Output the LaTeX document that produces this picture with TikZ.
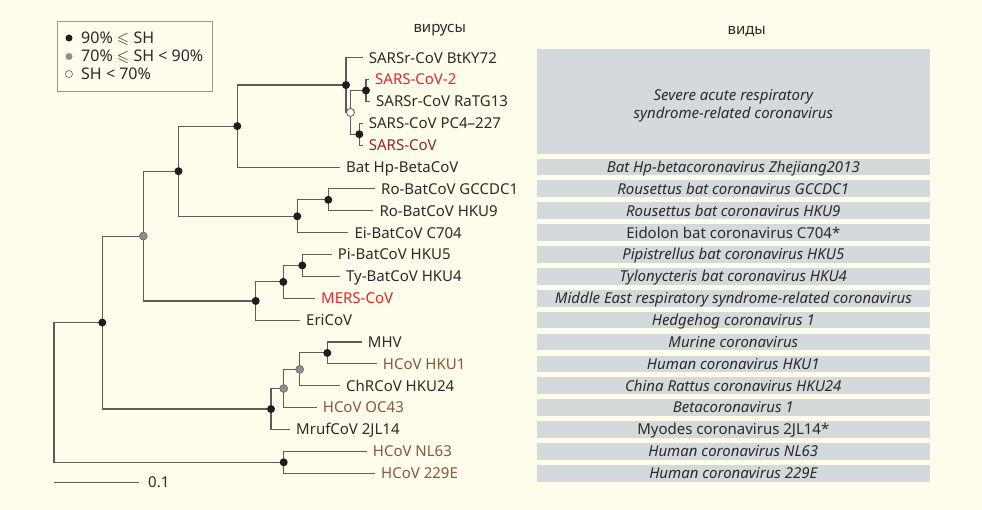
\documentclass[tikz,border=0pt]{standalone}
\usepackage{fontspec}
\setmainfont{Noto Sans}
\usepackage{amssymb}
\definecolor{bgc}{HTML}{FEFCEA}
\definecolor{linec}{HTML}{5E5D55}
\definecolor{txt}{HTML}{2B2B2B}
\definecolor{redc}{HTML}{E2262F}
\definecolor{darkred}{HTML}{8E2236}
\definecolor{brownc}{HTML}{8A5641}
\definecolor{boxc}{HTML}{D4DADB}
\definecolor{legc}{HTML}{9A9A8A}
\definecolor{dotb}{HTML}{1E1E1E}
\definecolor{dotg}{HTML}{8E8E8E}
\tikzset{
  br/.style={draw=linec, line width=1.1pt},
  leaf/.style={anchor=west, inner xsep=6pt, inner ysep=0pt, text height=12pt, text depth=1.3pt, font=\fontsize{15}{17}\selectfont, text=txt},
  bdot/.style={circle, fill=dotb, inner sep=0pt, minimum size=8pt},
  gdot/.style={circle, fill=dotg, draw=linec, line width=0.5pt, inner sep=0pt, minimum size=8pt},
  odot/.style={circle, fill=white, draw=linec, line width=0.8pt, inner sep=0pt, minimum size=8pt},
  sbox/.style={fill=boxc, draw=none, inner sep=0pt, minimum width=393.3pt, minimum height=16.8pt, text height=12pt, text depth=1.3pt, font=\fontsize{15}{17}\selectfont, text=txt},
  hdr/.style={font=\fontsize{15}{17}\selectfont, text=txt, inner sep=0pt},
  legt/.style={anchor=west, inner sep=0pt, text height=12.5pt, text depth=1.5pt, font=\fontsize{16}{18}\selectfont, text=txt},
}
\begin{document}
\begin{tikzpicture}[x=1pt,y=-1pt]
\fill[bgc] (0,0) rectangle (982,510);
\useasboundingbox (0,0) rectangle (982,510);
% legend
\node[draw=legc, line width=1pt, minimum width=155pt, minimum height=70pt, anchor=north west, inner sep=0pt] (leg) at (57,21) {};
\node[bdot, minimum size=7pt] (lg1) at (69,38) {};
\node[gdot, minimum size=7pt, draw=none] (lg2) at (69,56.5) {};
\node[odot, minimum size=7pt, line width=0.6pt] (lg3) at (69,74) {};
\node[legt] (lt1) at (81,38) {90\% $\leqslant$ SH};
\node[legt] (lt2) at (81,56.5) {70\% $\leqslant$ SH < 90\%};
\node[legt] (lt3) at (81,74) {SH < 70\%};
% headers
\node[hdr] (h1) at (439.7,30) {вирусы};
\node[hdr] (h2) at (746.7,31.7) {виды};
% internal node coordinates
\coordinate (P) at (366,90.5);
\coordinate (Q) at (359.3,134.25);
\coordinate (O) at (350.5,112.4);
\coordinate (N) at (346,85.05);
\coordinate (B) at (237.3,126.1);
\coordinate (D) at (328.3,199.85);
\coordinate (DE) at (297.3,216.3);
\coordinate (C) at (178.5,171.2);
\coordinate (H) at (302.3,265.45);
\coordinate (G) at (283.3,281.9);
\coordinate (F) at (255.7,301);
\coordinate (E) at (143.3,236.1);
\coordinate (L) at (327.3,352.95);
\coordinate (K) at (299.7,369.4);
\coordinate (J) at (283.7,388.5);
\coordinate (I) at (271,409);
\coordinate (A) at (102.3,322.55);
\coordinate (M) at (283.7,462.3);
\coordinate (R) at (54,392.4);
% leaves
\node[leaf] (l0) at (362.7,57.7) {SARSr-CoV BtKY72};
\node[leaf, text=redc] (l1) at (369,79.6) {SARS-CoV-2};
\node[leaf] (l2) at (370,101.4) {SARSr-CoV RaTG13};
\node[leaf] (l3) at (362.7,123.3) {SARS-CoV PC4–227};
\node[leaf, text=darkred] (l4) at (362.7,145.2) {SARS-CoV};
\node[leaf] (l5) at (340,167.1) {Bat Hp-BetaCoV};
\node[leaf] (l6) at (375,188.9) {Ro-BatCoV GCCDC1};
\node[leaf] (l7) at (373.3,210.8) {Ro-BatCoV HKU9};
\node[leaf] (l8) at (348.3,232.7) {Ei-BatCoV C704};
\node[leaf] (l9) at (331.7,254.5) {Pi-BatCoV HKU5};
\node[leaf] (l10) at (340,276.4) {Ty-BatCoV HKU4};
\node[leaf, text=redc] (l11) at (315,298.3) {MERS-CoV};
\node[leaf] (l12) at (300,320.1) {EriCoV};
\node[leaf] (l13) at (361.7,342) {MHV};
\node[leaf, text=brownc] (l14) at (376.7,363.9) {HCoV HKU1};
\node[leaf] (l15) at (340,385.8) {ChRCoV HKU24};
\node[leaf, text=brownc] (l16) at (316.7,407.6) {HCoV OC43};
\node[leaf] (l17) at (290,429.5) {MrufCoV 2JL14};
\node[leaf, text=brownc] (l18) at (366.7,451.4) {HCoV NL63};
\node[leaf, text=brownc] (l19) at (375,473.2) {HCoV 229E};
% branches
\draw[br] (P) |- (l1.west) (P) |- (l2.west);
\draw[br] (Q) |- (l3.west) (Q) |- (l4.west);
\draw[br] (O) |- (P) (O) |- (Q);
\draw[br] (N) |- (l0.west) (N) |- (O);
\draw[br] (B) |- (N) (B) |- (l5.west);
\draw[br] (D) |- (l6.west) (D) |- (l7.west);
\draw[br] (DE) |- (D) (DE) |- (l8.west);
\draw[br] (C) |- (B) (C) |- (DE);
\draw[br] (H) |- (l9.west) (H) |- (l10.west);
\draw[br] (G) |- (H) (G) |- (l11.west);
\draw[br] (F) |- (G) (F) |- (l12.west);
\draw[br] (E) |- (C) (E) |- (F);
\draw[br] (L) |- (l13.west) (L) |- (l14.west);
\draw[br] (K) |- (L) (K) |- (l15.west);
\draw[br] (J) |- (K) (J) |- (l16.west);
\draw[br] (I) |- (J) (I) |- (l17.west);
\draw[br] (A) |- (E) (A) |- (I);
\draw[br] (M) |- (l18.west) (M) |- (l19.west);
\draw[br] (R) |- (A) (R) |- (M);
% support dots
\foreach \n in {N,P,Q,B,D,DE,C,H,G,F,L,I,A,M} \node[bdot] (d\n) at (\n) {};
\foreach \n in {E,K,J} \node[gdot] (d\n) at (\n) {};
\node[odot] (dO) at (O) {};
% scale bar
\coordinate (sb1) at (54,482.3);
\node[leaf, inner xsep=0pt] (sbl) at (148,482.3) {0.1};
\draw[br] (sb1) -- (139.3,482.3);
% species boxes
\node[sbox, minimum height=104.3pt] (s0) at (733.3,101.45) {};
\node[font=\fontsize{15}{18.5}\selectfont\itshape, text=txt, align=center, inner sep=0pt] (s0t) at (733.3,106) {Severe acute respiratory\\syndrome-related coronavirus};
\node[sbox] (s5) at (733.3,167.1) {\itshape Bat Hp-betacoronavirus Zhejiang2013};
\node[sbox] (s6) at (733.3,188.9) {\itshape Rousettus bat coronavirus GCCDC1};
\node[sbox] (s7) at (733.3,210.8) {\itshape Rousettus bat coronavirus HKU9};
\node[sbox] (s8) at (733.3,232.7) {Eidolon bat coronavirus C704*};
\node[sbox] (s9) at (733.3,254.5) {\itshape Pipistrellus bat coronavirus HKU5};
\node[sbox] (s10) at (733.3,276.4) {\itshape Tylonycteris bat coronavirus HKU4};
\node[sbox] (s11) at (733.3,298.3) {\itshape Middle East respiratory syndrome-related coronavirus};
\node[sbox] (s12) at (733.3,320.1) {\itshape Hedgehog coronavirus 1};
\node[sbox] (s13) at (733.3,342) {\itshape Murine coronavirus};
\node[sbox] (s14) at (733.3,363.9) {\itshape Human coronavirus HKU1};
\node[sbox] (s15) at (733.3,385.8) {\itshape China Rattus coronavirus HKU24};
\node[sbox] (s16) at (733.3,407.6) {\itshape Betacoronavirus 1};
\node[sbox] (s17) at (733.3,429.5) {Myodes coronavirus 2JL14*};
\node[sbox] (s18) at (733.3,451.4) {\itshape Human coronavirus NL63};
\node[sbox] (s19) at (733.3,473.2) {\itshape Human coronavirus 229E};
\end{tikzpicture}
\end{document}
